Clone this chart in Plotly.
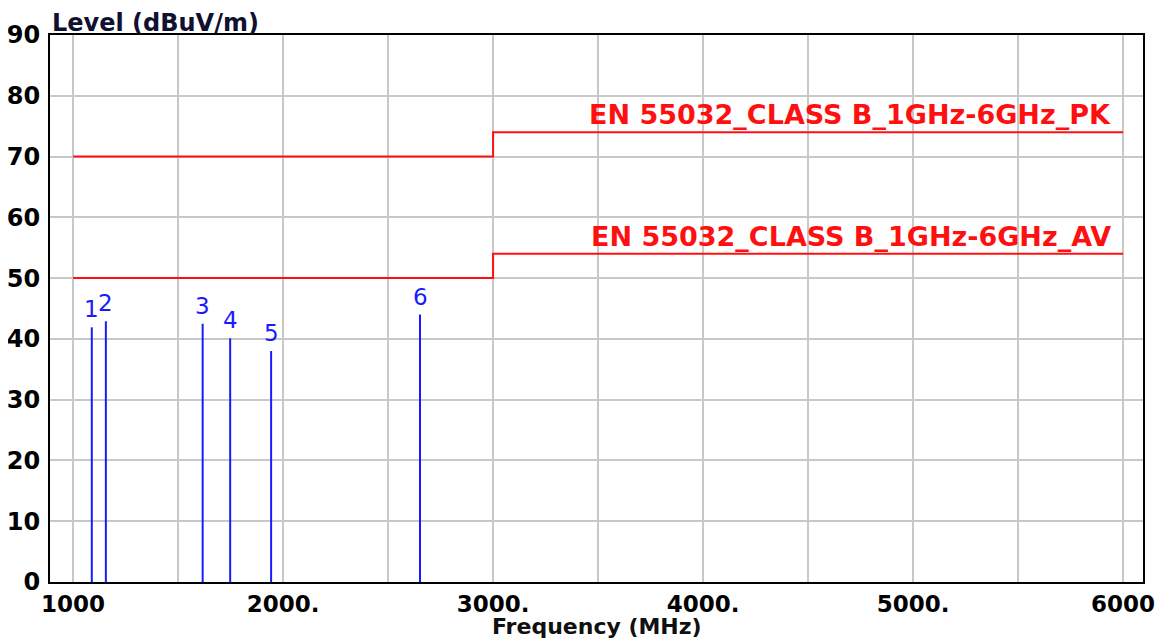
import plotly.graph_objects as go

# ---- data ----
marker_ids = ["1", "2", "3", "4", "5", "6"]
marker_freq = [1089, 1156, 1617, 1748, 1943, 2652]      # MHz
marker_level = [41.9, 42.9, 42.5, 40.1, 38.0, 44.0]     # dBuV/m

limit_freq = [1000, 3000, 6000]
limit_pk = [70, 74, 74]
limit_av = [50, 54, 54]
limit_pk_name = "EN 55032_CLASS B_1GHz-6GHz_PK"
limit_av_name = "EN 55032_CLASS B_1GHz-6GHz_AV"

x_tickvals = [1000, 1500, 2000, 2500, 3000, 3500, 4000, 4500, 5000, 5500, 6000]
x_ticktext = ["1000", "", "2000.", "", "3000.", "", "4000.", "", "5000.", "", "6000"]
y_tickvals = [0, 10, 20, 30, 40, 50, 60, 70, 80, 90]

RED = "#ff1010"
BLUE = "#1a1aff"

fig = go.Figure()

# limit lines
for vals in (limit_pk, limit_av):
    fig.add_trace(go.Scatter(x=limit_freq, y=vals, mode="lines", line_shape="hv",
                             line=dict(color=RED, width=2), hoverinfo="skip"))

# marker sticks
xs, ys = [], []
for f, lv in zip(marker_freq, marker_level):
    xs += [f, f, None]
    ys += [0, lv, None]
fig.add_trace(go.Scatter(x=xs, y=ys, mode="lines", line=dict(color=BLUE, width=2),
                         hoverinfo="skip"))

# marker labels
for mid, f, lv in zip(marker_ids, marker_freq, marker_level):
    fig.add_annotation(x=f, y=lv, text=mid, showarrow=False, yanchor="bottom",
                       xanchor="center", yshift=3,
                       font=dict(family="DejaVu Sans", size=23, color=BLUE))

# limit labels
for name, vals in ((limit_pk_name, limit_pk), (limit_av_name, limit_av)):
    fig.add_annotation(x=5950, y=vals[-1], text=name, showarrow=False,
                       xanchor="right", yanchor="bottom", yshift=0,
                       font=dict(family="DejaVu Sans", size=27, color=RED, weight="bold"))

# axis titles
fig.add_annotation(xref="paper", yref="paper", x=0.0, y=1.0, xanchor="left",
                   yanchor="bottom", yshift=-4, xshift=0, text="Level (dBuV/m)",
                   showarrow=False,
                   font=dict(family="DejaVu Sans", size=24, color="#101030", weight="bold"))
fig.add_annotation(xref="paper", yref="paper", x=0.5, y=0.0, xanchor="center",
                   yanchor="bottom", yshift=-59, text="Frequency (MHz)", showarrow=False,
                   font=dict(family="DejaVu Sans", size=22, color="#101010", weight="bold"))

fig.update_layout(
    width=1163, height=633,
    margin=dict(l=42, r=28, t=27, b=59),
    paper_bgcolor="white", plot_bgcolor="white",
    showlegend=False,
)
fig.update_xaxes(range=[890, 6095], tickvals=x_tickvals, ticktext=x_ticktext,
                 showgrid=True, gridcolor="#c8c8c8", gridwidth=2, automargin=False,
                 showline=True, linecolor="black", linewidth=2, mirror=True,
                 ticks="", ticklen=0, zeroline=False, ticklabelstandoff=0,
                 tickfont=dict(family="DejaVu Sans", size=23, color="black", weight="bold"))
fig.update_yaxes(range=[0, 90], tickvals=y_tickvals,
                 showgrid=True, gridcolor="#c8c8c8", gridwidth=2, automargin=False,
                 showline=True, linecolor="black", linewidth=2, mirror=True,
                 ticks="", ticklen=0, zeroline=False, ticklabelstandoff=3,
                 tickfont=dict(family="DejaVu Sans", size=24, color="black", weight="bold"))

fig.write_html("out.html")
